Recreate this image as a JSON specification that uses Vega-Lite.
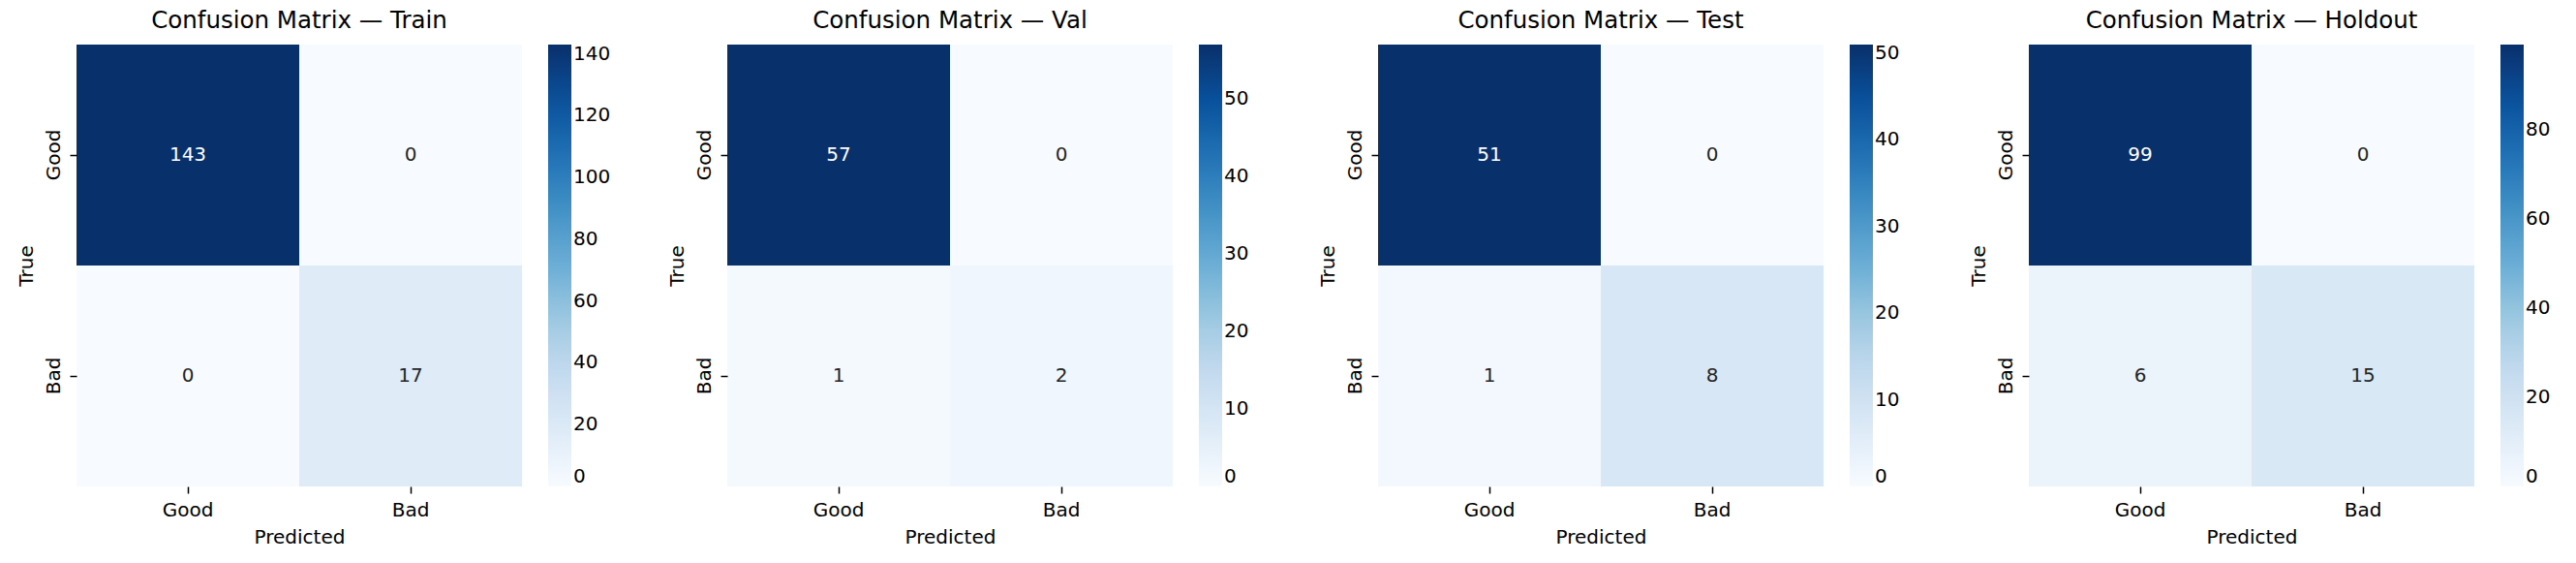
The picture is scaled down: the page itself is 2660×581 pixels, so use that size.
{
  "$schema": "https://vega.github.io/schema/vega-lite/v6.json",
  "padding": {"left": 17, "top": 8, "right": 5, "bottom": 5},
  "background": "white",
  "bounds": "flush",
  "spacing": 212,
  "data": {"values": [
    {"split": "Train", "actual": "Good", "pred": "Good", "n": 143},
    {"split": "Train", "actual": "Good", "pred": "Bad", "n": 0},
    {"split": "Train", "actual": "Bad", "pred": "Good", "n": 0},
    {"split": "Train", "actual": "Bad", "pred": "Bad", "n": 17},
    {"split": "Val", "actual": "Good", "pred": "Good", "n": 57},
    {"split": "Val", "actual": "Good", "pred": "Bad", "n": 0},
    {"split": "Val", "actual": "Bad", "pred": "Good", "n": 1},
    {"split": "Val", "actual": "Bad", "pred": "Bad", "n": 2},
    {"split": "Test", "actual": "Good", "pred": "Good", "n": 51},
    {"split": "Test", "actual": "Good", "pred": "Bad", "n": 0},
    {"split": "Test", "actual": "Bad", "pred": "Good", "n": 1},
    {"split": "Test", "actual": "Bad", "pred": "Bad", "n": 8},
    {"split": "Holdout", "actual": "Good", "pred": "Good", "n": 99},
    {"split": "Holdout", "actual": "Good", "pred": "Bad", "n": 0},
    {"split": "Holdout", "actual": "Bad", "pred": "Good", "n": 6},
    {"split": "Holdout", "actual": "Bad", "pred": "Bad", "n": 15}
  ]},
  "hconcat": [
    {
      "width": 460, "height": 456,
      "title": "Confusion Matrix — Train",
      "transform": [{"filter": "datum.split === 'Train'"}],
      "encoding": {
        "x": {"field": "pred", "type": "nominal", "sort": ["Good", "Bad"], "title": "Predicted", "scale": {"paddingInner": 0, "paddingOuter": 0}, "axis": {"labelAngle": 0}},
        "y": {"field": "actual", "type": "nominal", "sort": ["Good", "Bad"], "title": "True", "scale": {"paddingInner": 0, "paddingOuter": 0}, "axis": {"labelAngle": -90, "labelAlign": "center", "labelBaseline": "bottom"}}
      },
      "layer": [
        {"mark": {"type": "rect"}, "encoding": {"color": {"field": "n", "type": "quantitative", "scale": {"domain": [0, 143], "nice": false, "range": ["#f7fbff", "#deebf7", "#c6dbef", "#9ecae1", "#6baed6", "#4292c6", "#2171b5", "#08519c", "#08306b"]}, "legend": {"values": [0, 20, 40, 60, 80, 100, 120, 140]}}}},
        {"mark": {"type": "text", "fontSize": 20}, "encoding": {"text": {"field": "n", "type": "quantitative"}, "color": {"condition": {"test": "datum.n > 30", "value": "white"}, "value": "#262626"}}}
      ]
    },
    {
      "width": 460, "height": 456,
      "title": "Confusion Matrix — Val",
      "transform": [{"filter": "datum.split === 'Val'"}],
      "encoding": {
        "x": {"field": "pred", "type": "nominal", "sort": ["Good", "Bad"], "title": "Predicted", "scale": {"paddingInner": 0, "paddingOuter": 0}, "axis": {"labelAngle": 0}},
        "y": {"field": "actual", "type": "nominal", "sort": ["Good", "Bad"], "title": "True", "scale": {"paddingInner": 0, "paddingOuter": 0}, "axis": {"labelAngle": -90, "labelAlign": "center", "labelBaseline": "bottom"}}
      },
      "layer": [
        {"mark": {"type": "rect"}, "encoding": {"color": {"field": "n", "type": "quantitative", "scale": {"domain": [0, 57], "nice": false, "range": ["#f7fbff", "#deebf7", "#c6dbef", "#9ecae1", "#6baed6", "#4292c6", "#2171b5", "#08519c", "#08306b"]}, "legend": {"values": [0, 10, 20, 30, 40, 50]}}}},
        {"mark": {"type": "text", "fontSize": 20}, "encoding": {"text": {"field": "n", "type": "quantitative"}, "color": {"condition": {"test": "datum.n > 30", "value": "white"}, "value": "#262626"}}}
      ]
    },
    {
      "width": 460, "height": 456,
      "title": "Confusion Matrix — Test",
      "transform": [{"filter": "datum.split === 'Test'"}],
      "encoding": {
        "x": {"field": "pred", "type": "nominal", "sort": ["Good", "Bad"], "title": "Predicted", "scale": {"paddingInner": 0, "paddingOuter": 0}, "axis": {"labelAngle": 0}},
        "y": {"field": "actual", "type": "nominal", "sort": ["Good", "Bad"], "title": "True", "scale": {"paddingInner": 0, "paddingOuter": 0}, "axis": {"labelAngle": -90, "labelAlign": "center", "labelBaseline": "bottom"}}
      },
      "layer": [
        {"mark": {"type": "rect"}, "encoding": {"color": {"field": "n", "type": "quantitative", "scale": {"domain": [0, 51], "nice": false, "range": ["#f7fbff", "#deebf7", "#c6dbef", "#9ecae1", "#6baed6", "#4292c6", "#2171b5", "#08519c", "#08306b"]}, "legend": {"values": [0, 10, 20, 30, 40, 50]}}}},
        {"mark": {"type": "text", "fontSize": 20}, "encoding": {"text": {"field": "n", "type": "quantitative"}, "color": {"condition": {"test": "datum.n > 30", "value": "white"}, "value": "#262626"}}}
      ]
    },
    {
      "width": 460, "height": 456,
      "title": "Confusion Matrix — Holdout",
      "transform": [{"filter": "datum.split === 'Holdout'"}],
      "encoding": {
        "x": {"field": "pred", "type": "nominal", "sort": ["Good", "Bad"], "title": "Predicted", "scale": {"paddingInner": 0, "paddingOuter": 0}, "axis": {"labelAngle": 0}},
        "y": {"field": "actual", "type": "nominal", "sort": ["Good", "Bad"], "title": "True", "scale": {"paddingInner": 0, "paddingOuter": 0}, "axis": {"labelAngle": -90, "labelAlign": "center", "labelBaseline": "bottom"}}
      },
      "layer": [
        {"mark": {"type": "rect"}, "encoding": {"color": {"field": "n", "type": "quantitative", "scale": {"domain": [0, 99], "nice": false, "range": ["#f7fbff", "#deebf7", "#c6dbef", "#9ecae1", "#6baed6", "#4292c6", "#2171b5", "#08519c", "#08306b"]}, "legend": {"values": [0, 20, 40, 60, 80]}}}},
        {"mark": {"type": "text", "fontSize": 20}, "encoding": {"text": {"field": "n", "type": "quantitative"}, "color": {"condition": {"test": "datum.n > 30", "value": "white"}, "value": "#262626"}}}
      ]
    }
  ],
  "resolve": {"scale": {"color": "independent"}, "legend": {"color": "independent"}},
  "config": {
    "font": "DejaVu Sans",
    "view": {"stroke": null},
    "title": {"fontSize": 24.5, "fontWeight": "normal", "color": "black", "offset": 12, "font": "DejaVu Sans"},
    "axis": {"domain": false, "grid": false, "tickColor": "black", "tickSize": 7, "tickWidth": 1.5, "labelColor": "black", "labelFontSize": 20, "labelPadding": 7, "titleFontSize": 20, "titleFontWeight": "normal", "titleColor": "black", "titlePadding": 8, "labelFont": "DejaVu Sans", "titleFont": "DejaVu Sans"},
    "legend": {"orient": "right", "title": null, "offset": 27, "gradientLength": 456, "gradientThickness": 24, "gradientStrokeWidth": 0, "labelFontSize": 20, "labelColor": "black", "labelOffset": 16, "labelBaseline": "middle", "labelFont": "DejaVu Sans", "labelOverlap": false, "padding": 0}
  }
}
